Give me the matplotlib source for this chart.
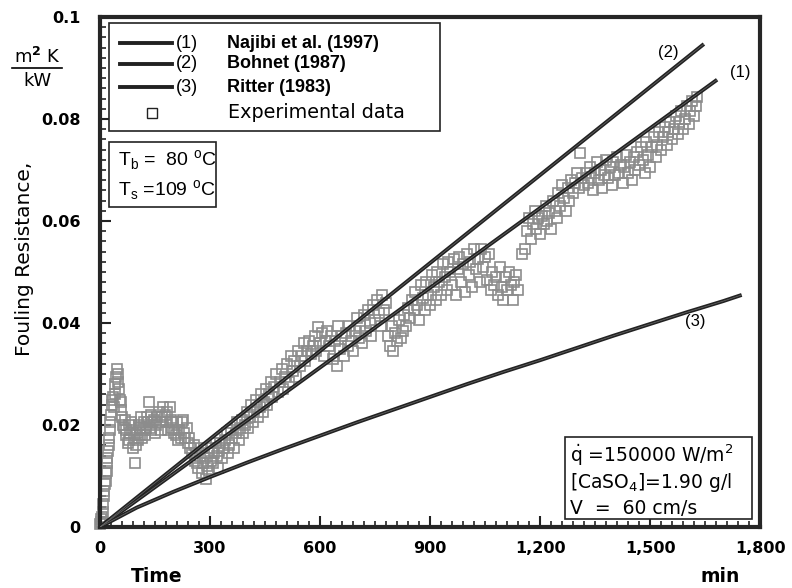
import matplotlib
matplotlib.use("Agg")
import matplotlib.pyplot as plt
from matplotlib.ticker import MultipleLocator, FuncFormatter
from matplotlib.patches import Rectangle
from matplotlib.lines import Line2D

# ---------------- data ----------------
najibi_t = [0, 1683]
najibi_r = [0, 0.0877]

bohnet_t = [0, 1647]
bohnet_r = [0, 0.0947]

ritter_t = [0, 100, 200, 300, 400, 500, 600, 700, 800, 900, 1000, 1100,
            1200, 1300, 1400, 1500, 1600, 1700, 1750]
ritter_r = [0, 0.0038, 0.0069, 0.0098, 0.0126, 0.0153, 0.0179, 0.0205,
            0.0230, 0.0255, 0.0280, 0.0304, 0.0327, 0.0351, 0.0375, 0.0398,
            0.0421, 0.0443, 0.0455]

exp_t = [0, 2, 3, 5, 6, 8, 9, 10, 12, 13, 15, 16, 18, 19, 20, 22, 24, 25, 27, 28,
         30, 32, 34, 36, 38, 40, 42, 44, 46, 48, 50, 52, 54, 56, 58, 60,
         62, 65, 68, 70, 72, 75, 78, 80, 83, 85, 88, 90, 92, 95, 98, 100, 103, 105,
         108, 110, 113, 115, 118, 120, 123, 125, 128, 130, 133, 135, 138, 140, 143,
         146, 150, 153,
         156, 160, 163, 166, 170, 173, 176, 180, 183, 186, 190, 193, 196, 200, 203,
         206, 210, 213, 216, 220, 223, 226, 230, 233, 236, 240, 243, 246,
         250, 255, 258, 262, 265, 268, 272, 275, 278, 282, 285, 288, 292, 295, 298,
         302, 305, 308, 312, 315, 318, 322, 325, 328,
         332, 336, 340, 345, 348, 352, 356, 360, 365, 370, 374, 378, 382, 386, 390,
         395, 400, 404, 408, 412, 416, 420, 425, 430, 435, 440, 444, 448, 452, 456,
         460, 465, 470, 475, 480, 485, 490, 495, 500, 505, 510, 515, 520, 525, 530,
         535, 540, 545, 550, 555, 560, 565, 570, 575, 580, 585, 590, 595, 600, 605,
         610, 615, 620, 625, 630,
         635, 640, 645, 650, 655, 660, 665, 670, 675, 680, 685, 690, 695, 700, 705,
         710, 715, 720, 725, 730, 735, 740, 745, 750, 755, 760, 765, 770, 775, 780,
         785, 790, 795, 800, 805, 810, 815, 820, 825, 830, 835, 840, 845, 850, 855,
         860, 865, 870, 875, 880, 885, 890, 895, 900,
         905, 910, 915, 920, 925, 930, 935, 940, 945, 950, 955, 960, 965, 970, 975,
         980, 985, 990, 995, 1000, 1005, 1010, 1015, 1020, 1025, 1030, 1035, 1040,
         1045, 1050, 1055, 1060, 1065, 1070, 1075, 1080, 1085, 1090, 1095, 1100,
         1105, 1110, 1115, 1120, 1125, 1130, 1135, 1140,
         1150, 1160, 1165, 1170, 1175, 1180, 1185, 1190, 1195, 1200, 1205, 1210,
         1215, 1220, 1225, 1230, 1235, 1240, 1245, 1250, 1255, 1260, 1265, 1270,
         1275, 1280, 1285, 1290, 1295, 1300, 1305, 1310, 1315, 1320,
         1325, 1330, 1335, 1340, 1345, 1350, 1355, 1360, 1365, 1370, 1375, 1380,
         1385, 1390, 1395, 1400, 1405, 1410, 1415, 1420, 1425, 1430, 1435, 1440,
         1445, 1450, 1455, 1460, 1465, 1470, 1475, 1480, 1485, 1490, 1495, 1500,
         1505, 1510, 1515, 1520, 1525, 1530, 1535, 1540, 1545, 1550, 1555, 1560,
         1565, 1570, 1575, 1580, 1585, 1590, 1595, 1600, 1605, 1610, 1615, 1620,
         1625, 1628]

exp_r = [0.0005, 0.001, 0.0015, 0.0008, 0.002, 0.003, 0.0045, 0.006, 0.007, 0.0085,
         0.009, 0.0105, 0.011, 0.0125, 0.0135, 0.015, 0.016, 0.0175, 0.019, 0.0205,
         0.022, 0.024, 0.025, 0.0255, 0.0235, 0.026, 0.028, 0.0295, 0.031, 0.030,
         0.0285, 0.027, 0.025, 0.0245, 0.023, 0.0215,
         0.020, 0.0195, 0.021, 0.018, 0.019, 0.0165, 0.017, 0.020, 0.0185, 0.0205,
         0.019, 0.0155, 0.0175, 0.0125, 0.016, 0.0185, 0.017, 0.020, 0.0195, 0.018,
         0.0215, 0.0175, 0.019, 0.0205, 0.018, 0.0195, 0.0215, 0.0205, 0.0245, 0.0195,
         0.022, 0.019, 0.0205, 0.021, 0.0185, 0.020,
         0.0215, 0.0225, 0.0205, 0.019, 0.0215, 0.0235, 0.022, 0.0205, 0.0225, 0.019,
         0.0235, 0.021, 0.0195, 0.0205, 0.0185, 0.018, 0.0205, 0.017, 0.019, 0.0175,
         0.0205, 0.021, 0.0185, 0.0175, 0.0195, 0.0165, 0.0175, 0.0155,
         0.0145, 0.016, 0.013, 0.0145, 0.0125, 0.0115, 0.014, 0.0155, 0.0105, 0.0125,
         0.0135, 0.0095, 0.012, 0.0145, 0.011, 0.013, 0.0155, 0.0125, 0.0145, 0.0165,
         0.014, 0.0115, 0.015, 0.0165,
         0.0135, 0.0155, 0.017, 0.0185, 0.0145, 0.016, 0.019, 0.0175, 0.0155, 0.0185,
         0.0205, 0.017, 0.0195, 0.021, 0.0185, 0.020, 0.0225, 0.0195, 0.0215, 0.024,
         0.0205, 0.0225, 0.025, 0.0215, 0.0235, 0.026, 0.0225, 0.0245, 0.027, 0.024,
         0.026, 0.0285, 0.0255, 0.0275, 0.030, 0.0265, 0.0285, 0.031, 0.027, 0.0295,
         0.032, 0.0285, 0.0335, 0.0305, 0.0325, 0.0295, 0.0345, 0.0315, 0.0335, 0.036,
         0.0325, 0.0345, 0.0365, 0.034, 0.0355, 0.0375, 0.0345, 0.0392, 0.036, 0.038,
         0.0335, 0.0365, 0.0385, 0.0355, 0.0375,
         0.033, 0.0365, 0.0315, 0.0395, 0.035, 0.0375, 0.0335, 0.038, 0.0355, 0.0395,
         0.0365, 0.0345, 0.0385, 0.041, 0.037, 0.0395, 0.036, 0.0415, 0.0385, 0.0425,
         0.040, 0.0375, 0.0435, 0.0405, 0.0445, 0.042, 0.0395, 0.0455, 0.0425, 0.044,
         0.0375, 0.0355, 0.0395, 0.0345, 0.038, 0.0365, 0.0405, 0.037, 0.0385, 0.0415,
         0.0395, 0.043, 0.041, 0.0445, 0.0425, 0.046, 0.0435, 0.0405, 0.0475, 0.045,
         0.0425, 0.048, 0.0455, 0.0435,
         0.0495, 0.047, 0.0445, 0.050, 0.048, 0.0455, 0.0515, 0.049, 0.0465, 0.052,
         0.050, 0.0475, 0.0525, 0.0455, 0.0505, 0.053, 0.048, 0.0515, 0.046, 0.0535,
         0.0495, 0.052, 0.047, 0.0545, 0.0505, 0.0525, 0.048, 0.0545, 0.051, 0.053,
         0.0485, 0.0535, 0.0465, 0.050, 0.0475, 0.049, 0.0455, 0.051, 0.047, 0.0445,
         0.049, 0.0465, 0.050, 0.0475, 0.0445, 0.048, 0.0495, 0.0465,
         0.0535, 0.0545, 0.058, 0.0605, 0.0565, 0.0595, 0.062, 0.0585, 0.0605, 0.0575,
         0.061, 0.0595, 0.063, 0.060, 0.0615, 0.0585, 0.064, 0.062, 0.0605, 0.0655,
         0.063, 0.067, 0.0645, 0.062, 0.0665, 0.064, 0.068, 0.0655, 0.0675, 0.0695,
         0.0665, 0.0733, 0.0685, 0.067,
         0.0695, 0.0675, 0.0705, 0.0685, 0.066, 0.0695, 0.0715, 0.068, 0.070, 0.0665,
         0.069, 0.072, 0.0685, 0.0705, 0.067, 0.0715, 0.069, 0.0725, 0.0695, 0.071,
         0.0675, 0.0705, 0.073, 0.0695, 0.0715, 0.068, 0.0725, 0.070, 0.0735, 0.071,
         0.0745, 0.072, 0.0695, 0.0755, 0.073, 0.0705,
         0.0745, 0.0765, 0.0725, 0.075, 0.0775, 0.074, 0.0765, 0.0785, 0.075, 0.0775,
         0.0795, 0.076, 0.078, 0.0805, 0.077, 0.0795, 0.0815, 0.078, 0.080, 0.0825,
         0.079, 0.0815, 0.0835, 0.0805, 0.0825, 0.0843]

x_ticks = [0, 300, 600, 900, 1200, 1500, 1800]
y_ticks = [0, 0.02, 0.04, 0.06, 0.08, 0.1]

# ---------------- figure ----------------
fig = plt.figure(figsize=(7.92, 5.88), dpi=100)
ax = fig.add_axes([100 / 792, 1 - 527 / 588, 660 / 792, 510 / 588])

ax.plot(exp_t, exp_r, linestyle="none", marker="s", markersize=7.2,
        markerfacecolor="none", markeredgecolor="#8c8c8c", markeredgewidth=1.2,
        zorder=2, clip_on=False)

line_color = "#222222"
for t, r in [(najibi_t, najibi_r), (bohnet_t, bohnet_r), (ritter_t, ritter_r)]:
    ax.plot(t, r, color=line_color, lw=2.8, zorder=3, solid_capstyle="butt")
    ax.plot(t, r, color="#6a6a6a", lw=0.5, zorder=4, solid_capstyle="butt")

ax.set_xlim(0, 1800)
ax.set_ylim(0, 0.1)
ax.set_xticks(x_ticks)
ax.set_yticks(y_ticks)
ax.xaxis.set_minor_locator(MultipleLocator(30))
ax.yaxis.set_minor_locator(MultipleLocator(0.002))
ax.xaxis.set_major_formatter(FuncFormatter(lambda v, p: f"{v:,.0f}"))


def yfmt(v, p):
    if abs(v) < 1e-12:
        return "0"
    if abs(v - 0.1) < 1e-9:
        return "0.1"
    return f"{v:.2f}"


ax.yaxis.set_major_formatter(FuncFormatter(yfmt))
ax.tick_params(axis="both", which="major", direction="in", length=8, width=1.5,
               colors="#222222", labelsize=11.5, top=False, right=False)
ax.tick_params(axis="both", which="minor", direction="in", length=4, width=1.2,
               colors="#222222", top=False, right=False)
ax.tick_params(axis="x", pad=10)
ax.tick_params(axis="y", pad=14)
for lab in ax.get_xticklabels() + ax.get_yticklabels():
    lab.set_fontweight("bold")
    lab.set_color("black")

for s in ax.spines.values():
    s.set_linewidth(3.0)
    s.set_color("#262626")

# axis labels
fig.text(25 / 792, 1 - 259 / 588, "Fouling Resistance,", rotation=90,
         ha="center", va="center", fontsize=14.5)
fig.text(37 / 792, 1 - 57 / 588, r"m$^{\mathbf{2}}$ K", ha="center", va="center",
         fontsize=13)
fig.add_artist(Line2D([12 / 792, 62 / 792], [1 - 68 / 588, 1 - 68 / 588],
                      color="black", lw=1.2))
fig.text(37 / 792, 1 - 81 / 588, "kW", ha="center", va="center", fontsize=13)
fig.text(157 / 792, 1 - 577 / 588, "Time", ha="center", va="center",
         fontsize=13.5, fontweight="bold")
fig.text(720 / 792, 1 - 577 / 588, "min", ha="center", va="center",
         fontsize=13.5, fontweight="bold")

# curve labels
ax.text(1745, 0.0892, "(1)", fontsize=12, ha="center", va="center",
        family="Liberation Sans")
ax.text(1549, 0.0931, "(2)", fontsize=12, ha="center", va="center",
        family="Liberation Sans")
ax.text(1623, 0.0402, "(3)", fontsize=12, ha="center", va="center",
        family="Liberation Sans")


# legend box
def axx(px):
    return (px - 100) / 660


def axy(py):
    return (527 - py) / 510


ax.add_patch(Rectangle((axx(109), axy(131)), axx(440) - axx(109), axy(23) - axy(131),
                       transform=ax.transAxes, facecolor="white", edgecolor="#222222",
                       lw=1.2, zorder=5))
rows = [43, 64, 87, 113]
names = ["Najibi et al. (1997)", "Bohnet (1987)", "Ritter (1983)"]
nums = ["(1)", "(2)", "(3)"]
for i in range(3):
    yy = axy(rows[i])
    ax.add_line(Line2D([axx(120), axx(172)], [yy, yy], transform=ax.transAxes,
                       color=line_color, lw=2.8, zorder=6))
    ax.text(axx(176), yy, nums[i], transform=ax.transAxes, fontsize=13,
            family="Liberation Sans", ha="left", va="center", zorder=6)
    ax.text(axx(227), yy, names[i], transform=ax.transAxes, fontsize=13,
            fontweight="bold", family="Liberation Sans", ha="left", va="center",
            zorder=6)
yy = axy(rows[3])
ax.plot([axx(152)], [yy], transform=ax.transAxes, marker="s", markersize=7,
        markerfacecolor="none", markeredgecolor="#222222", markeredgewidth=1.0,
        zorder=6)
ax.text(axx(228), yy, "Experimental data", transform=ax.transAxes, fontsize=13.8,
        ha="left", va="center", zorder=6)

# temperature box
ax.add_patch(Rectangle((axx(109), axy(207)), axx(216) - axx(109), axy(142) - axy(207),
                       transform=ax.transAxes, facecolor="white", edgecolor="#222222",
                       lw=1.2, zorder=5))
ax.text(axx(118), axy(160), r"T$_\mathregular{b}$ =  80 $^\mathregular{o}$C",
        transform=ax.transAxes, fontsize=14, family="Liberation Sans",
        ha="left", va="center", zorder=6)
ax.text(axx(118), axy(190), r"T$_\mathregular{s}$ =109 $^\mathregular{o}$C",
        transform=ax.transAxes, fontsize=14, family="Liberation Sans",
        ha="left", va="center", zorder=6)

# parameter box
ax.add_patch(Rectangle((axx(565), axy(519)), axx(752) - axx(565), axy(437) - axy(519),
                       transform=ax.transAxes, facecolor="white", edgecolor="#222222",
                       lw=1.2, zorder=5))
ax.text(axx(570), axy(455), r"$\dot{\mathregular{q}}$ =150000 W/m$^\mathregular{2}$",
        transform=ax.transAxes, fontsize=13.5, ha="left", va="center", zorder=6)
ax.text(axx(570), axy(482), r"[CaSO$_\mathregular{4}$]=1.90 g/l",
        transform=ax.transAxes, fontsize=13.5, ha="left", va="center", zorder=6)
ax.text(axx(570), axy(508), r"V  =  60 cm/s",
        transform=ax.transAxes, fontsize=13.5, ha="left", va="center", zorder=6)

fig.savefig("out.png", dpi=100)
